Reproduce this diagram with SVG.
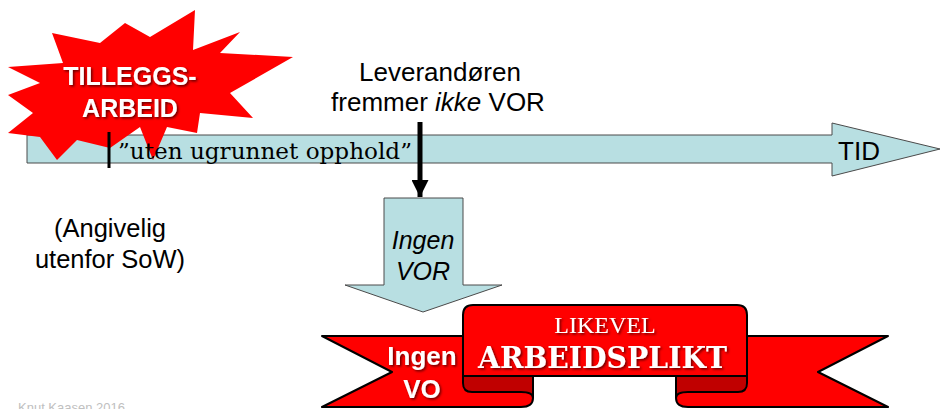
<svg xmlns="http://www.w3.org/2000/svg" width="941" height="409" viewBox="0 0 941 409">
<defs>
<filter id="sh" x="-10%" y="-20%" width="130%" height="150%">
<feDropShadow dx="1.5" dy="1.5" stdDeviation="0.8" flood-color="#000" flood-opacity="0.6"/>
</filter>
<marker id="ah" viewBox="0 0 10 10" refX="10" refY="5" markerWidth="3.4" markerHeight="3.4" orient="auto" markerUnits="strokeWidth">
<path d="M0,0 L10,5 L0,10 Z" fill="#000"/>
</marker>
<style>
.blue{fill:#b8dfe2;stroke:#4a4a4a;stroke-width:1}
.red{fill:#ff0000;stroke:#000;stroke-width:2;stroke-linejoin:round}
.dark{fill:#c00000}
.edge{fill:none;stroke:#000;stroke-width:2}
.sans{font-family:"Liberation Sans",Arial,sans-serif}
.wb{fill:#fff;font-weight:bold;font-family:"Liberation Sans",Arial,sans-serif;filter:url(#sh)}
</style>
</defs>
<rect width="941" height="409" fill="#fff"/>

<g id="tid">
<path class="blue" d="M27,135 H832 V123 L940,149 L832,176 V163 H27 Z"/>
<text x="859" y="160" class="sans" font-size="26" text-anchor="middle">TID</text>
</g>

<g id="tillegg">
<path fill="#ff0000" d="M52,33 L100,43 L125,23 L150,37 L195,10 L193,50 L240,32 L220,53 L293,57 L230,93 L253,118 L200,113 L197,133 L167,127 L153,160 L140,127 L110,148 L77,140 L57,160 L40,137 L8,133 L33,113 L8,95 L40,83 L8,67 L63,63 Z"/>
<text x="130" y="85" class="wb" font-size="25" text-anchor="middle">TILLEGGS-</text>
<text x="130" y="117" class="wb" font-size="25" text-anchor="middle">ARBEID</text>
</g>

<g id="uten">
<text x="118" y="159" font-family="'DejaVu Serif',serif" font-size="23" textLength="294" lengthAdjust="spacingAndGlyphs">”uten ugrunnet opphold”</text>
</g>

<g id="leverandor" class="sans" font-size="26" text-anchor="middle">
<text x="440" y="81">Leverandøren</text>
<text x="438" y="111">fremmer <tspan font-style="italic">ikke</tspan> VOR</text>
</g>

<g id="angivelig" class="sans" font-size="25.5" text-anchor="middle">
<text x="110" y="237">(Angivelig</text>
<text x="110" y="268">utenfor SoW)</text>
</g>

<g id="ingenvor">
<path class="blue" d="M384,198 H463 V285 H502 L423,312 L345,285 H384 Z"/>
<text x="423" y="249" class="sans" font-size="25" font-style="italic" text-anchor="middle">Ingen</text>
<text x="423" y="280" class="sans" font-size="25" font-style="italic" text-anchor="middle">VOR</text>
</g>

<g id="ribbon">
<path class="red" d="M533,336 H322 L392,372 L322,407 H521 Q533,407 533,398 Z"/>
<path class="red" d="M676,336 H888 L818,372 L888,407 H688 Q676,407 676,398 Z"/>
<path class="dark" d="M464,374 H532 V398 Q532,392 521,392 H472 Q464,392 464,383 Z"/>
<path class="dark" d="M746,374 H677 V398 Q677,392 688,392 H738 Q746,392 746,383 Z"/>
<path class="edge" d="M463,370 V383 Q463,392 472,392 H521 Q533,392 533,398"/>
<path class="edge" d="M747,370 V383 Q747,392 738,392 H688 Q676,392 676,398"/>
<path class="red" d="M463,376 V315 Q463,305 473,305 H737 Q747,305 747,315 V376 Z"/>
<text x="605" y="333" font-family="'Liberation Serif','Times New Roman',serif" font-size="24" fill="#fff" text-anchor="middle" filter="url(#sh)">LIKEVEL</text>
<text x="478" y="368" font-family="'DejaVu Serif',serif" font-weight="bold" font-size="29" fill="#fff" textLength="249" lengthAdjust="spacingAndGlyphs" filter="url(#sh)">ARBEIDSPLIKT</text>
<text x="422" y="365" class="wb" font-size="26" text-anchor="middle">Ingen</text>
<text x="422" y="398" class="wb" font-size="26" text-anchor="middle">VO</text>
</g>

<g id="connectors">
<line x1="109" y1="132" x2="109" y2="168" stroke="#000" stroke-width="3"/>
<line x1="420" y1="122" x2="420" y2="197" stroke="#000" stroke-width="5" marker-end="url(#ah)"/>
</g>

<g id="footer">
<text x="18" y="412" class="sans" font-size="13" fill="#c0c0c0">Knut Kaasen 2016</text>
</g>
</svg>
